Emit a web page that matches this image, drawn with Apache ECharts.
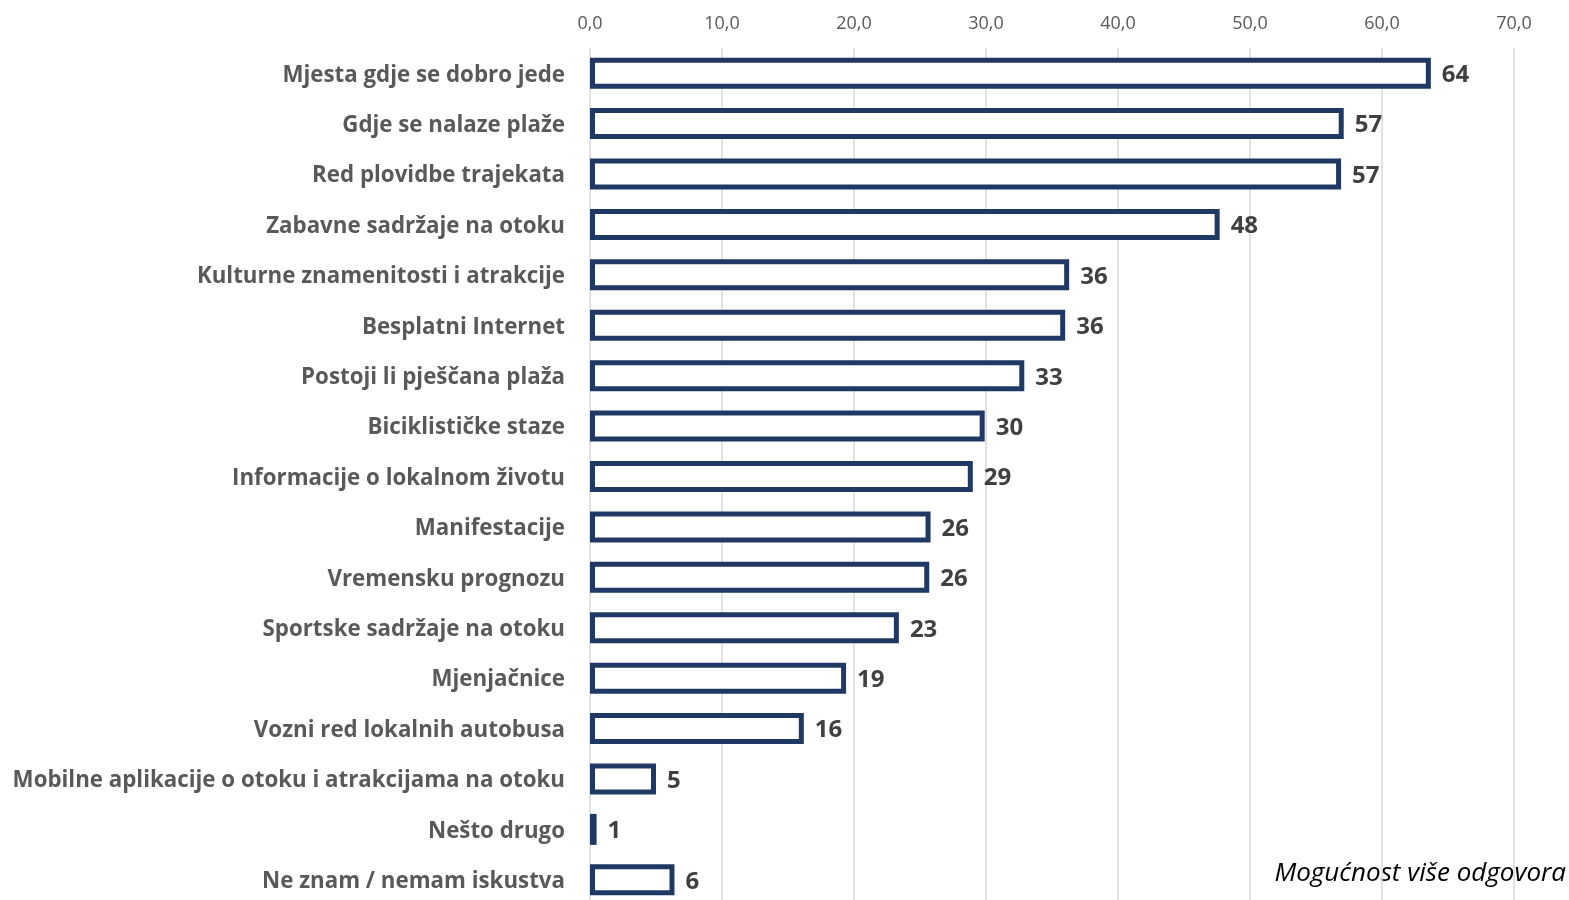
<!DOCTYPE html>
<html>
<head>
<meta charset="utf-8">
<script src="https://cdn.jsdelivr.net/npm/echarts@6/dist/echarts.min.js"></script>
<style>
html,body{margin:0;padding:0;background:#fff;}
#chart{width:1569px;height:900px;}
</style>
</head>
<body>
<div id="chart"></div>
<script>
const categories = [
  "Mjesta gdje se dobro jede",
  "Gdje se nalaze plaže",
  "Red plovidbe trajekata",
  "Zabavne sadržaje na otoku",
  "Kulturne znamenitosti i atrakcije",
  "Besplatni Internet",
  "Postoji li pješčana plaža",
  "Biciklističke staze",
  "Informacije o lokalnom životu",
  "Manifestacije",
  "Vremensku prognozu",
  "Sportske sadržaje na otoku",
  "Mjenjačnice",
  "Vozni red lokalnih autobusa",
  "Mobilne aplikacije o otoku i atrakcijama na otoku",
  "Nešto drugo",
  "Ne znam / nemam iskustva"
];
const values = [63.7, 57.1, 56.9, 47.7, 36.3, 36.0, 32.9, 29.9, 29.0, 25.8, 25.7, 23.4, 19.4, 16.2, 5.0, 0.5, 6.4];
const axisMin = 0, axisMax = 70, axisStep = 10;
const note = "Mogućnost više odgovora";

const chart = echarts.init(document.getElementById('chart'));
chart.setOption({
  backgroundColor: '#ffffff',
  animation: false,
  grid: { left: 590, right: 55, top: 48, height: 857, containLabel: false, outerBoundsMode: 'none' },
  xAxis: {
    type: 'value', position: 'top', min: axisMin, max: axisMax, interval: axisStep,
    axisLine: { show: false }, axisTick: { show: false },
    axisLabel: { color: '#595959', fontSize: 18, fontFamily: 'Open Sans', margin: 15,
      formatter: v => v.toFixed(1).replace('.', ',') },
    splitLine: { show: true, lineStyle: { color: '#d9d9d9', width: 1.5 } }
  },
  yAxis: {
    type: 'category', data: categories, inverse: true,
    axisLine: { show: false }, axisTick: { show: false },
    axisLabel: { margin: 25,
      formatter: v => '{c|' + v + '}',
      rich: { c: { color: '#595959', fontSize: 22.3, fontWeight: 'bold', fontFamily: 'Open Sans',
        padding: [4, 0, 0, 0] } } }
  },
  series: [{
    type: 'bar', data: values, barWidth: 31,
    itemStyle: { color: '#ffffff', borderColor: '#1f3864', borderWidth: 5 },
    label: { show: true, position: 'right', distance: 11, offset: [0, 2], color: '#404040', fontSize: 24,
      fontWeight: 'bold', fontFamily: 'Open Sans', formatter: p => Math.round(p.value) }
  }],
  graphic: [{
    type: 'text', right: 3, top: 861,
    style: { text: note, font: 'italic 26px "Open Sans"', fill: '#000000' }
  }]
});
</script>
</body>
</html>
